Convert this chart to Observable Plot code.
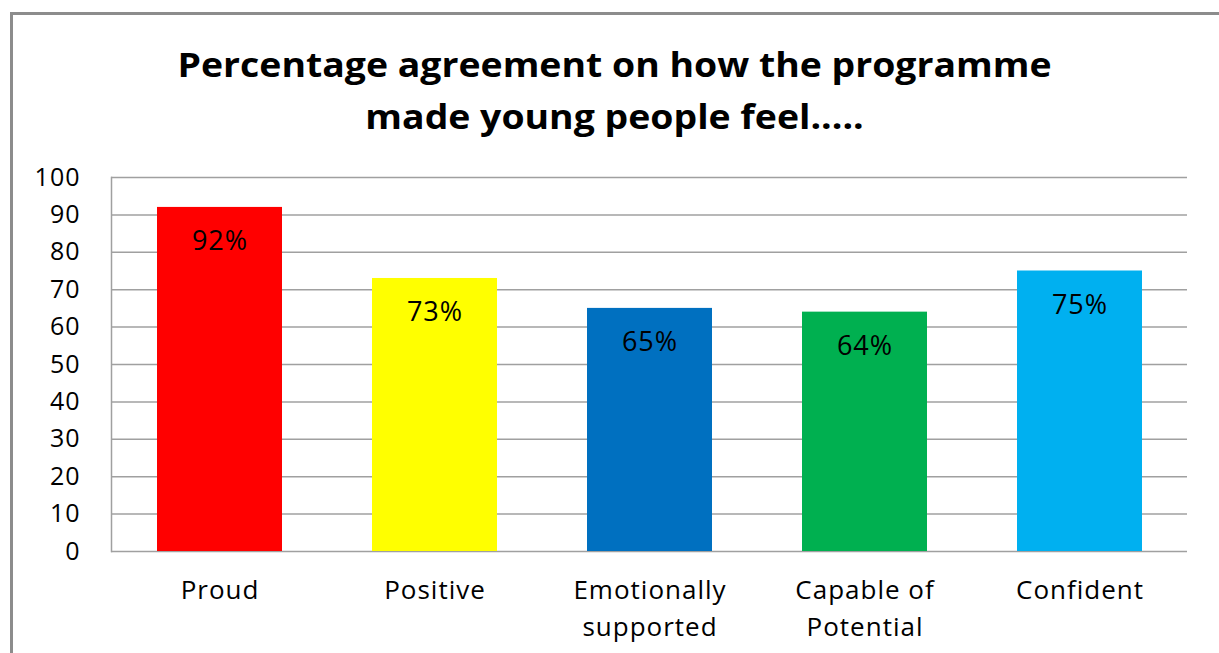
<!DOCTYPE html>
<html>
<head>
<meta charset="utf-8">
<script src="https://cdn.jsdelivr.net/npm/d3@7"></script>
<script src="https://cdn.jsdelivr.net/npm/@observablehq/plot@0.6"></script>
<style>
  html, body { margin: 0; padding: 0; background: #fff; }
  #wrap { position: relative; width: 1219px; height: 653px; overflow: hidden; }
  #frame { position: absolute; left: 10px; top: 12px; width: 1300px; height: 700px;
           border-left: 3px solid #8c8c8c; border-top: 3px solid #8c8c8c; }
  #title { position: absolute; left: 0; width: 1229px; top: 38px; text-align: center;
           font-family: "Open Sans", sans-serif; font-weight: 700; font-size: 34px;
           line-height: 52px; color: #000; transform: scaleX(1.1); transform-origin: 614px 0; }
  #chart { position: absolute; left: 0; top: 0; }
</style>
</head>
<body>
<div id="wrap">
  <div id="frame"></div>
  <div id="chart"></div>
  <div id="title">Percentage agreement on how the programme<br>made young people feel.....</div>
</div>
<script>
const categories = ["Proud", "Positive", "Emotionally supported", "Capable of Potential", "Confident"];
const tickLabels = ["Proud", "Positive", "Emotionally\nsupported", "Capable of\nPotential", "Confident"];
const values = [92, 73, 65, 64, 75];
const valueLabels = ["92%", "73%", "65%", "64%", "75%"];
const colors = ["#FF0000", "#FFFF00", "#0070C0", "#00B050", "#00B0F0"];
const yTicks = [0, 10, 20, 30, 40, 50, 60, 70, 80, 90, 100];

const data = categories.map((c, i) => ({cat: c, value: values[i], label: valueLabels[i], color: colors[i]}));
const font = "'Open Sans', sans-serif";

const chart = Plot.plot({
  width: 1219,
  height: 653,
  marginLeft: 111,
  marginRight: 32,
  marginTop: 177,
  marginBottom: 102,
  style: {fontFamily: font, background: "transparent", letterSpacing: "1px"},
  x: {domain: categories, paddingInner: 0.42, paddingOuter: 0.21},
  y: {domain: [0, 100]},
  marks: [
    Plot.gridY(yTicks, {stroke: "#a0a0a0", strokeOpacity: 1, strokeWidth: 1.5}),
    Plot.frame({anchor: "left", stroke: "#a0a0a0", strokeWidth: 1.5}),
    Plot.barY(data, {x: "cat", y: "value", fill: "color"}),
    Plot.text(data, {x: "cat", y: "value", text: "label", dy: 34, fontSize: 27, fill: "#000", fontFamily: font}),
    Plot.axisY({ticks: yTicks, tickSize: 0, tickPadding: 31, fontSize: 25, fill: "#000", label: null}),
    Plot.axisX({tickSize: 0, tickPadding: 21, fontSize: 26, fill: "#000", label: null, lineHeight: 1.42,
                tickFormat: (d) => tickLabels[categories.indexOf(d)]})
  ]
});
chart.style.color = "#000";
document.getElementById("chart").appendChild(chart);
</script>
</body>
</html>
